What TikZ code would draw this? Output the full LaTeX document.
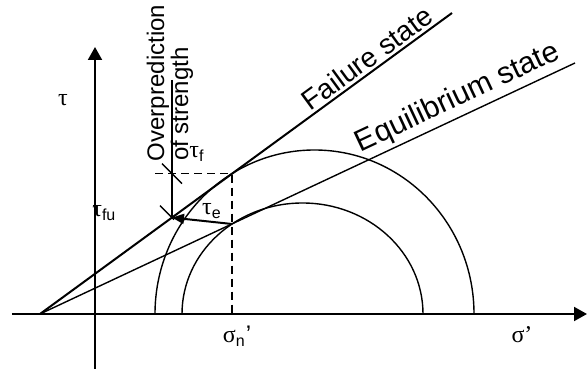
\documentclass[tikz,border=0pt]{standalone}
\usepackage{fontspec}
\setmainfont{Liberation Sans}
\newfontfamily\grk{Liberation Serif}
\usetikzlibrary{arrows.meta}

\begin{document}
\begin{tikzpicture}[
  x=0.5pt, y=0.5pt,
  >={Triangle[length=6.5pt,width=7pt]},
  axis/.style={line width=1pt, ->},
  lim/.style={line width=1pt},
  eqm/.style={line width=0.7pt},
  arcs/.style={line width=0.7pt},
  guide/.style={line width=0.8pt, dash pattern=on 4pt off 2.5pt},
  lbl/.style={font=\fontsize{12}{14}\selectfont, inner sep=0pt},
  st/.style={font=\fontsize{14}{16}\selectfont, inner sep=0pt},
]
\useasboundingbox (-95,-55) rectangle (493,314);

% ---- axes ----
\coordinate (xs) at (-83,0);
\coordinate (xe) at (492,0);
\coordinate (ys) at (0,-55);
\coordinate (ye) at (0,267);
\draw[axis] (xs) -- (xe);
\draw[axis] (ys) -- (ye);

% ---- Mohr circles ----
\draw[arcs] (379,0) arc[start angle=0, end angle=180, x radius=159.5, y radius=164];
\draw[arcs] (328,0) arc[start angle=0, end angle=180, x radius=120.5, y radius=111];

% ---- envelopes ----
\coordinate (P) at (-55,0);
\coordinate (F) at (357,301);
\coordinate (E) at (480,251);
\draw[lim] (P) -- (F);
\draw[eqm] (P) -- (E);

% ---- stress points ----
\coordinate (tf)  at (137,140.3);
\coordinate (te)  at (137,90);
\coordinate (tfu) at (77,96.4);
\coordinate (sn)  at (137,0);
\coordinate (dl)  at (60,140.3);
\coordinate (dm)  at (77,140.3);
\coordinate (dt)  at (77,234);

\draw[guide] (dl) -- (tf) -- (sn);

% ---- overprediction dimension ----
\draw[eqm] (dt) -- (tfu);
\draw[eqm] ([shift={(-10,10)}]dm) -- ([shift={(10,-10)}]dm);
\draw[eqm] ([shift={(-12,12)}]tfu) -- ([shift={(2,-2)}]tfu);
\draw[line width=1pt, -{Triangle[length=6pt,width=5pt]}] (te) -- (tfu);

% ---- labels ----
\node[lbl] (tau) at (-32,214) {{\grk τ}};
\node[lbl, anchor=west] (tfuL) at (-3,101) {{\grk τ}\textsubscript{fu}};
\node[lbl] (tfL) at (102,160) {{\grk τ}\textsubscript{f}};
\node[lbl] (teL) at (117,103) {{\grk τ}\textsubscript{e}};
\node[lbl] (snL) at (142,-22) {{\grk σ}\textsubscript{n}’};
\node[lbl] (sL)  at (427,-21) {{\grk σ’}};
\node[lbl, rotate=90] (ovp) at (63,231) {Overprediction};
\node[lbl, rotate=90] (ofs) at (87,210) {of strength};
\node[st, rotate=36.15] (fs) at (272,256) {Failure state};
\node[st, rotate=25.1, font=\fontsize{15}{17}\selectfont] (es) at (363,216) {Equilibrium state};

\end{tikzpicture}
\end{document}
